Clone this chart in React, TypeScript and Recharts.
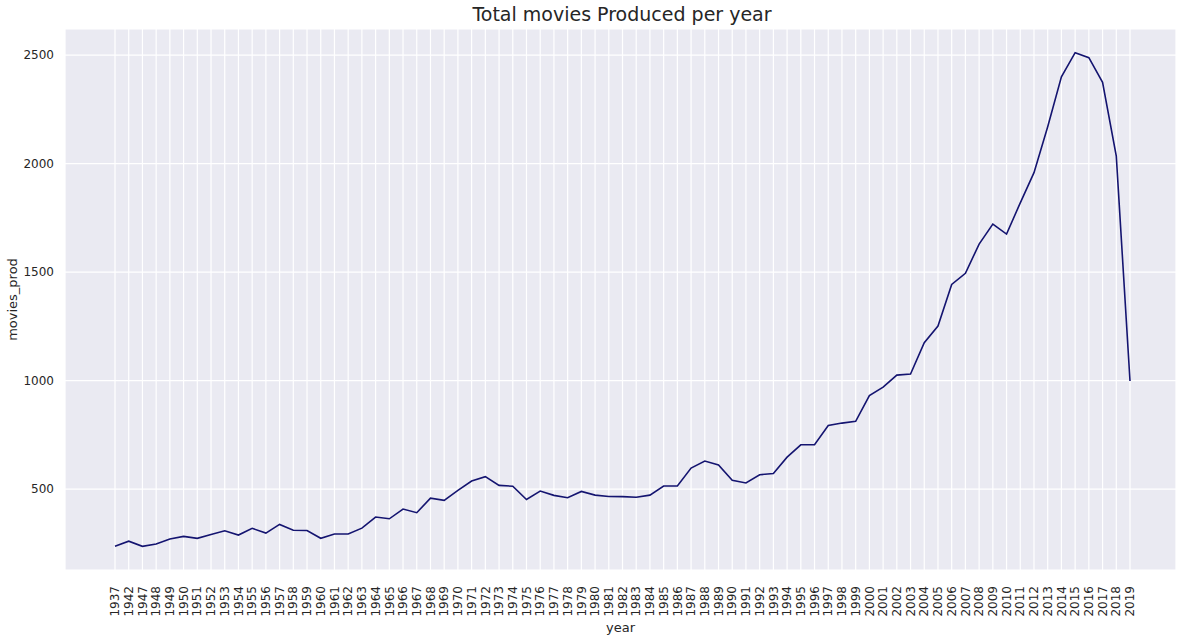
import { LineChart, Line, XAxis, YAxis, CartesianGrid } from "recharts";

// years on the x axis (1937 and 1942, then every year 1947-2019)
const years: string[] = [
  "1937", "1942", "1947", "1948", "1949", "1950", "1951", "1952", "1953", "1954",
  "1955", "1956", "1957", "1958", "1959", "1960", "1961", "1962", "1963", "1964",
  "1965", "1966", "1967", "1968", "1969", "1970", "1971", "1972", "1973", "1974",
  "1975", "1976", "1977", "1978", "1979", "1980", "1981", "1982", "1983", "1984",
  "1985", "1986", "1987", "1988", "1989", "1990", "1991", "1992", "1993", "1994",
  "1995", "1996", "1997", "1998", "1999", "2000", "2001", "2002", "2003", "2004",
  "2005", "2006", "2007", "2008", "2009", "2010", "2011", "2012", "2013", "2014",
  "2015", "2016", "2017", "2018", "2019",
];

const moviesProd: number[] = [
  237, 260, 236, 247, 270, 282, 273, 291, 308, 288,
  319, 297, 337, 310, 309, 273, 293, 293, 320, 371,
  363, 408, 391, 458, 448, 494, 537, 557, 517, 513,
  452, 491, 471, 460, 489, 472, 466, 465, 462, 472,
  514, 514, 597, 629, 611, 540, 528, 566, 572, 647,
  704, 704, 793, 804, 812, 931, 970, 1025, 1030, 1174,
  1251, 1443, 1494, 1629, 1721, 1675, 1819, 1958, 2170, 2400,
  2511, 2488, 2374, 2034, 998,
];

const yTicks = [500, 1000, 1500, 2000, 2500];

const data = years.map((y, i) => ({ year: y, movies_prod: moviesProd[i] }));

const FONT = "DejaVu Sans, sans-serif";
const TXT = "#262626";

function XTick({ x, y, payload }: any) {
  return (
    <text
      x={x}
      y={y + 8}
      transform={`rotate(-90, ${x}, ${y + 8})`}
      textAnchor="end"
      dy="0.35em"
      fontSize={12}
      fontFamily={FONT}
      fill={TXT}
    >
      {payload.value}
    </text>
  );
}

function YTick({ y, payload }: any) {
  return (
    <text x={54} y={y} textAnchor="end" dy="0.35em" fontSize={12} fontFamily={FONT} fill={TXT}>
      {payload.value}
    </text>
  );
}

export default function App() {
  return (
    <div style={{ position: "absolute", left: 0, top: 0, width: 1187, height: 636, background: "#fff" }}>
      <svg width={1187} height={30} style={{ position: "absolute", left: 0, top: 0 }}>
        <text x={622} y={21} textAnchor="middle" fontSize={19} fontFamily={FONT} fill={TXT}>
          Total movies Produced per year
        </text>
      </svg>
      <LineChart
        width={1187}
        height={636}
        data={data}
        margin={{ top: 29, right: 11, left: 0, bottom: 0 }}
      >
        <CartesianGrid fill="#EAEAF2" stroke="#ffffff" strokeWidth={1.2} />
        <XAxis
          dataKey="year"
          interval={0}
          height={66}
          padding={{ left: 50, right: 46 }}
          tick={<XTick />}
          tickLine={false}
          axisLine={false}
          label={{ value: "year", position: "insideBottom", offset: 4, fontSize: 13, fontFamily: FONT, fill: TXT }}
        />
        <YAxis
          width={65}
          domain={[127, 2620]}
          ticks={yTicks}
          allowDataOverflow
          tick={<YTick />}
          tickLine={false}
          axisLine={false}
          label={{ value: "movies_prod", angle: -90, position: "insideLeft", offset: 12, fontSize: 13, fontFamily: FONT, fill: TXT, style: { textAnchor: "middle" } }}
        />
        <Line
          type="linear"
          dataKey="movies_prod"
          stroke="#141470"
          strokeWidth={1.6}
          dot={false}
          isAnimationActive={false}
        />
      </LineChart>
    </div>
  );
}
